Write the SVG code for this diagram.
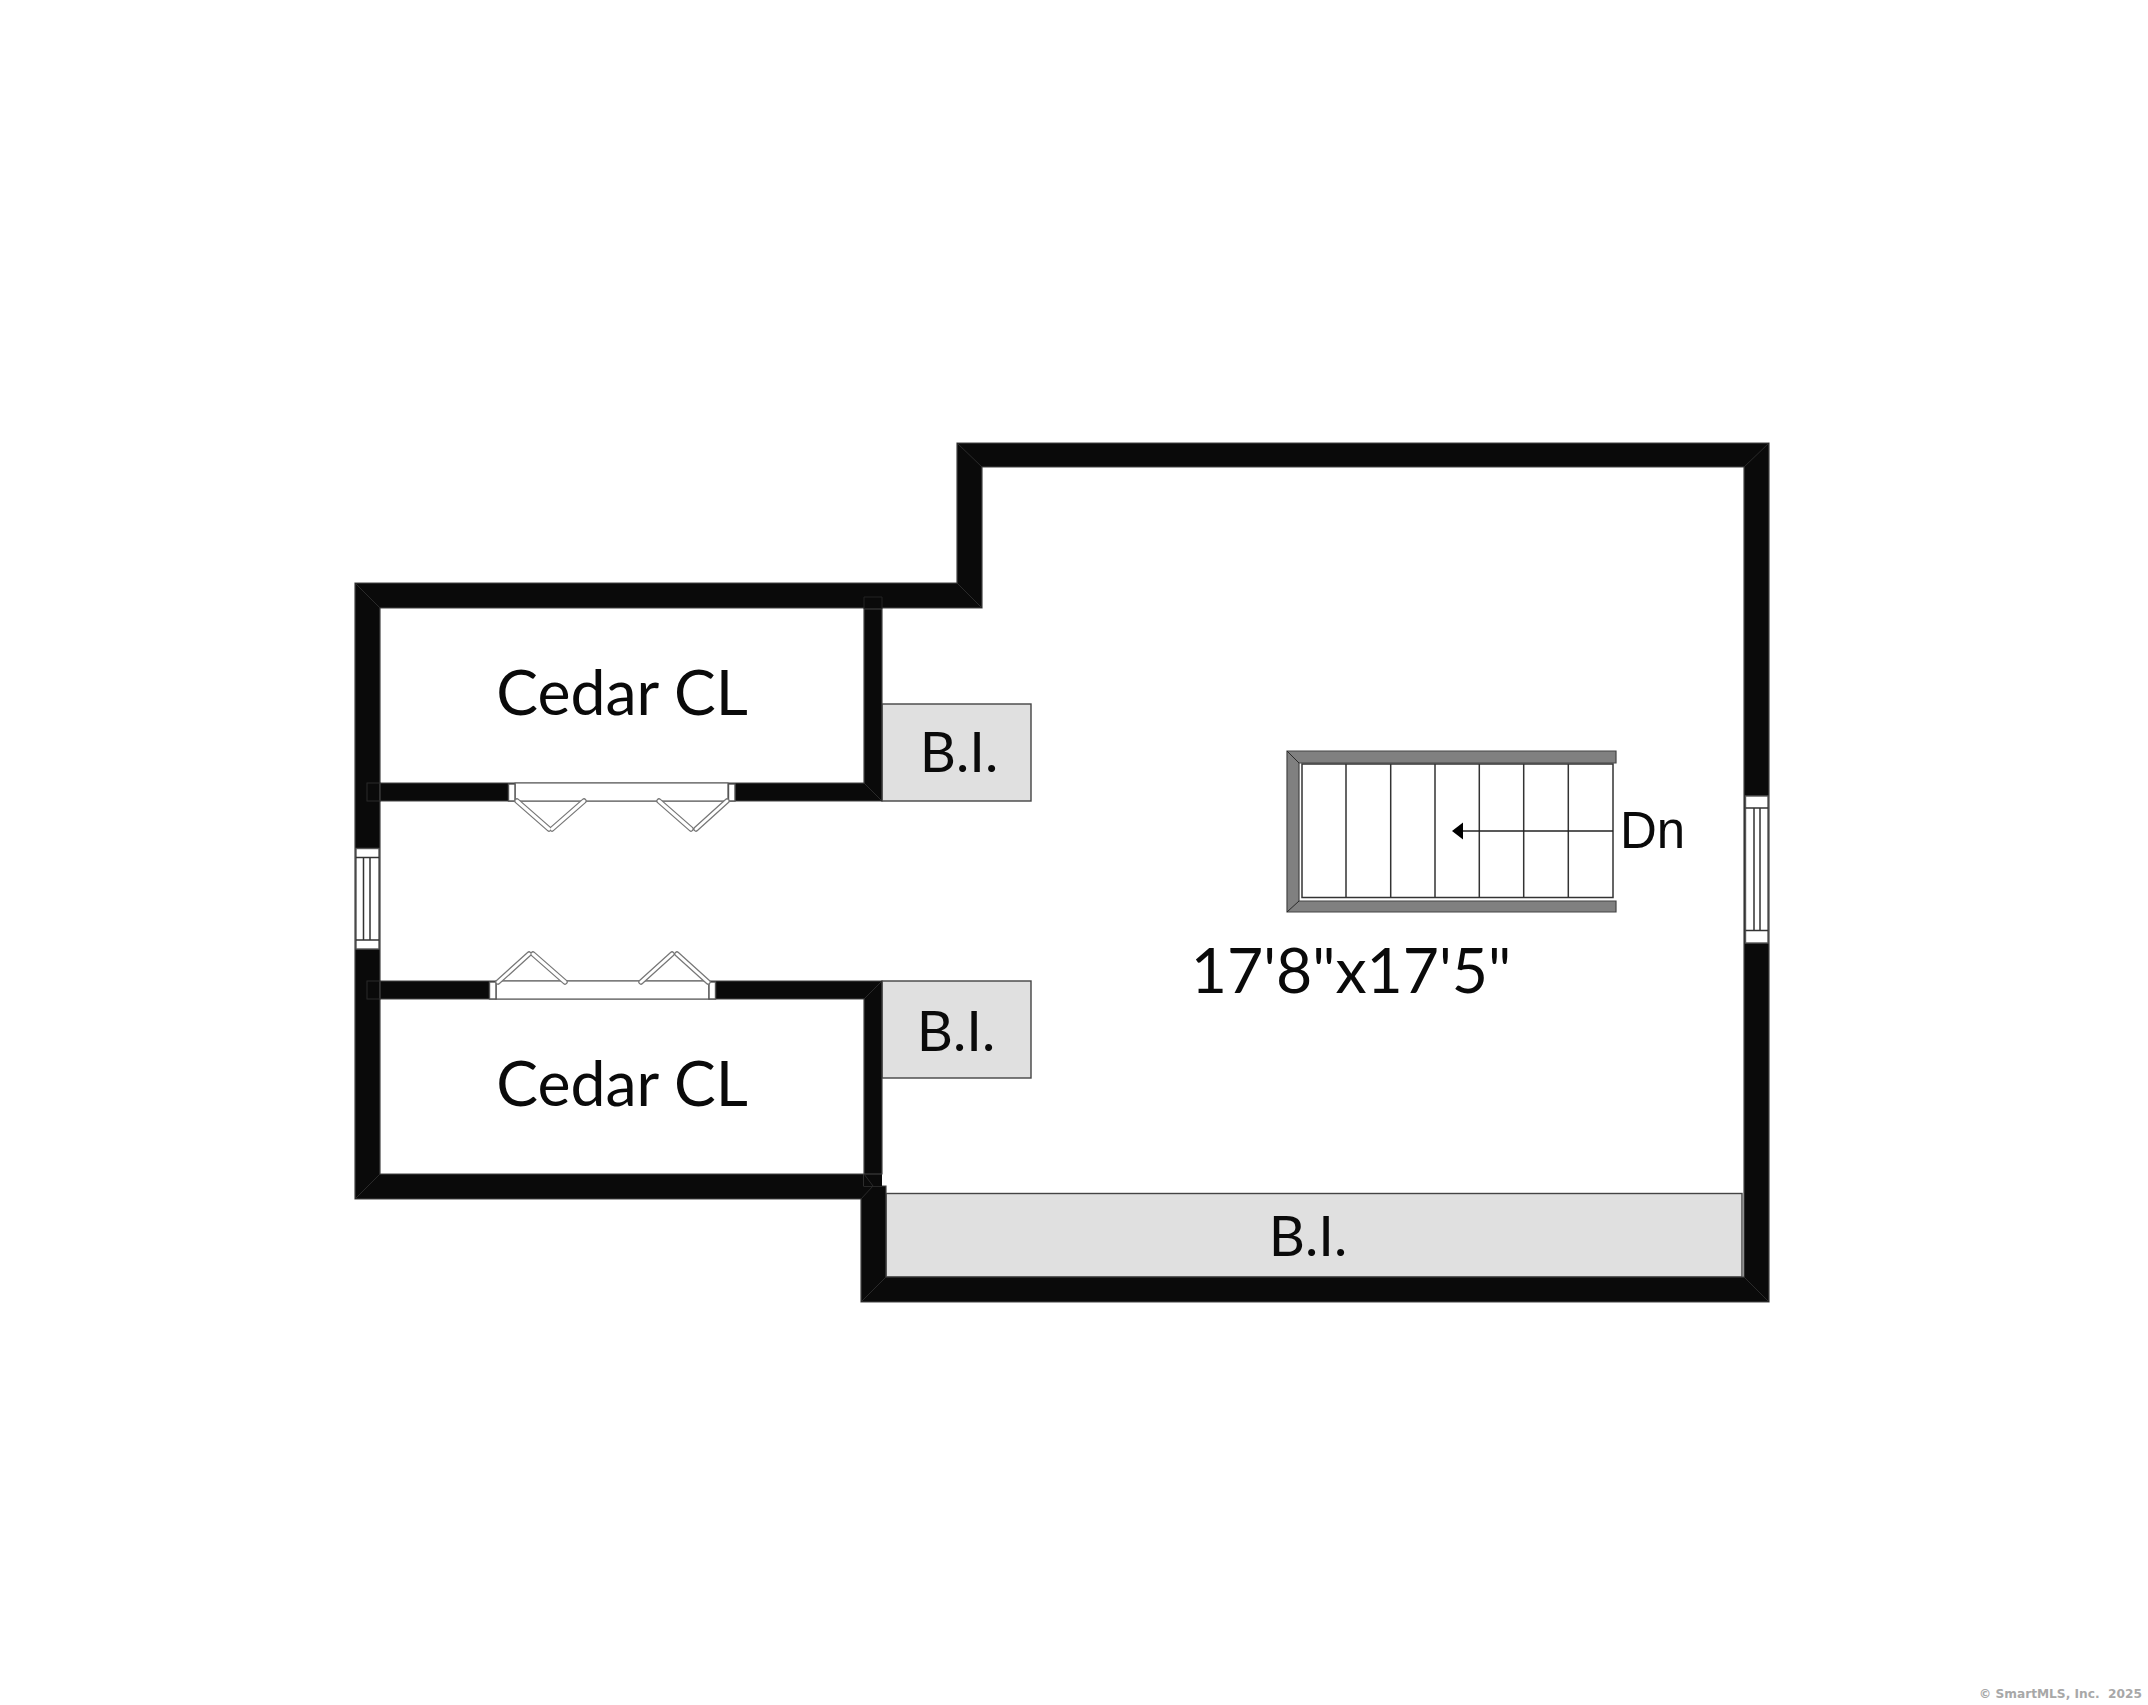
<svg xmlns="http://www.w3.org/2000/svg" width="2148" height="1705" viewBox="0 0 2148 1705">
<style>
.wall{fill:#0a0a0a;stroke:#444;stroke-width:1.2}
.mitre{stroke:#2a2a2a;stroke-width:1;fill:none}
.bi{fill:#e0e0e0;stroke:#444;stroke-width:1.4}
.pane{fill:#fff;stroke:#555;stroke-width:1.4}
.leaf{fill:none;stroke:#777;stroke-width:5.5;stroke-linecap:round}
.leafi{fill:none;stroke:#fff;stroke-width:3;stroke-linecap:round}
.line{fill:none;stroke:#333;stroke-width:1.5}
.rail{fill:#808080;stroke:#444;stroke-width:1.2}
.lab{font-family:Lato,"Liberation Sans",sans-serif;fill:#0a0a0a}
</style>
<rect width="2148" height="1705" fill="#fff"/>
<g id="bi-units">
<rect class="bi" x="882" y="704" width="149" height="97"/>
<rect class="bi" x="882" y="981" width="149" height="97"/>
<rect class="bi" x="886" y="1193.500" width="856" height="83.500"/>
</g>
<g id="walls">
<path class="wall" fill-rule="evenodd" d="M957 443H1769V1302H861V1199H355V583H957ZM982 467V608H380V1174H864V1186H886V1277H1744V467Z"/>
<rect x="864" y="597" width="18" height="204" fill="#0a0a0a"/>
<rect x="864" y="981" width="18" height="205" fill="#0a0a0a"/>
<path class="wall" d="M380 783H864V609H882V801H380Z"/>
<path class="wall" d="M380 981H882V1174H864V999H380Z"/>
<path d="M864 609V597H882V609" fill="none" stroke="#222" stroke-width="1"/>
<path class="mitre" d="M355 583L380 608M957 443L982 467M957 583L982 608M1769 443L1744 467M1769 1302L1744 1277M861 1302L886 1277M355 1199L380 1174M864 783L882 801M864 999L882 981M864 1174L873 1186L861 1199"/>
<rect class="mitre" x="367" y="783" width="13" height="18"/>
<rect class="mitre" x="367" y="981" width="13" height="18"/>
</g>
<g id="door-upper">
<rect x="515" y="783" width="213" height="18" fill="#fff" stroke="#666" stroke-width="1.2"/>
<rect class="pane" x="508.500" y="784" width="6.500" height="17"/>
<rect class="pane" x="728.500" y="784" width="6.500" height="17"/>
<path class="leaf" d="M517 801L549 829M584 801L552 829M659 801L691 829M727 801L696 829"/>
<path class="leafi" d="M517 801L549 829M584 801L552 829M659 801L691 829M727 801L696 829"/>
</g>
<g id="door-lower">
<rect x="496" y="981" width="213" height="18" fill="#fff" stroke="#666" stroke-width="1.2"/>
<rect class="pane" x="489.500" y="982" width="6.500" height="17"/>
<rect class="pane" x="709" y="982" width="6.500" height="17"/>
<path class="leaf" d="M498 982L529 954M565 982L533 954M641 982L672 954M708 982L677 954"/>
<path class="leafi" d="M498 982L529 954M565 982L533 954M641 982L672 954M708 982L677 954"/>
</g>
<g id="window-left">
<rect class="pane" x="356" y="848.500" width="23" height="100.500"/>
<path class="line" d="M356 857.500H379M356 940H379M363.500 857.500V940M370 857.500V940"/>
</g>
<g id="window-right">
<rect class="pane" x="1745.500" y="796" width="22.500" height="147"/>
<path class="line" d="M1745.500 808H1768M1745.500 930.500H1768M1754 808V930.500M1760 808V930.500"/>
</g>
<g id="stairs">
<path class="rail" d="M1287 751H1616V763H1299V901H1616V912H1287Z"/>
<path class="mitre" d="M1287 751L1299 763M1287 912L1299 901" stroke="#333"/>
<rect x="1302" y="764" width="311" height="133.500" fill="#fff" stroke="#333" stroke-width="1.5"/>
<path class="line" d="M1346 764V897.500M1390.700 764V897.500M1435 764V897.500M1479.300 764V897.500M1523.700 764V897.500M1568.300 764V897.500"/>
<path d="M1613 831H1462" stroke="#222" stroke-width="1.6" fill="none"/>
<path d="M1452 831L1463 822.500V839.500Z" fill="#000"/>
</g>
<g id="labels">
<text class="lab" x="622" y="715" font-size="62.500" text-anchor="middle">Cedar CL</text>
<text class="lab" x="622" y="1106" font-size="62.500" text-anchor="middle">Cedar CL</text>
<text class="lab" x="959" y="772" font-size="56" text-anchor="middle">B.I.</text>
<text class="lab" x="956" y="1051" font-size="56" text-anchor="middle">B.I.</text>
<text class="lab" x="1308" y="1256" font-size="56" text-anchor="middle">B.I.</text>
<text class="lab" x="1351" y="993" font-size="62.500" text-anchor="middle">17'8"x17'5"</text>
<text x="1620" y="848" font-size="51" fill="#0a0a0a" font-family="'Liberation Sans',sans-serif">Dn</text>
<text x="1979" y="1698" font-size="12.200" font-weight="bold" fill="#a8a8a8" font-family="'DejaVu Sans',sans-serif" xml:space="preserve">© SmartMLS, Inc.  2025</text>
</g>
</svg>
